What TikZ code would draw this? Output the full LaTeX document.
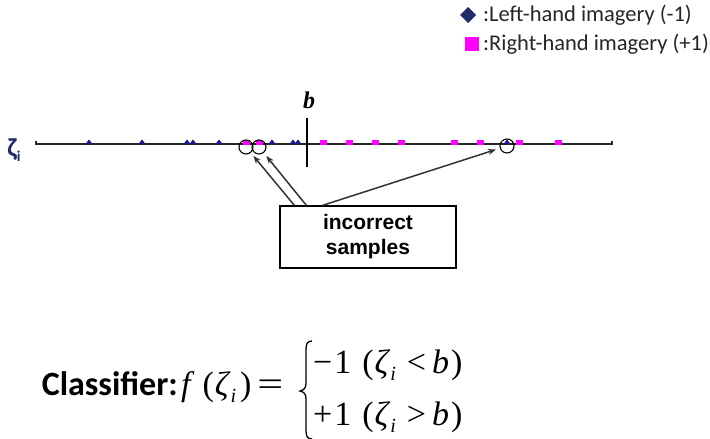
\documentclass[tikz,border=0pt]{standalone}
\usepackage{fontspec}
\setmainfont{Liberation Serif}
\newfontfamily\carfont{Carlito}
\newfontfamily\arlfont{Liberation Sans}
\usetikzlibrary{arrows.meta,calc}
\definecolor{navy}{HTML}{1F2A6B}
\definecolor{mblue}{HTML}{1A1A8C}
\definecolor{mag}{HTML}{FF00FF}
\definecolor{txt}{HTML}{262626}
\definecolor{arr}{HTML}{333333}
\tikzset{
  legtext/.style={anchor=west, inner sep=0pt, font=\carfont\fontsize{22.5}{24}\selectfont, text=txt},
  ring/.style={circle, draw=black, line width=1.1pt, minimum size=14pt, inner sep=0pt},
  pointer/.style={draw=arr, line width=1.5pt, -{Stealth[length=8pt,width=6pt]}, shorten >=4pt},
  labelbox/.style={draw=black, line width=1.2pt, minimum width=176pt, minimum height=62pt, inner sep=0pt, align=center, font=\arlfont\bfseries\fontsize{21}{25}\selectfont},
  mathtext/.style={inner sep=0pt, font=\fontsize{34}{36}\selectfont}
}
\newcommand{\zsub}{\textit{ζ}\raisebox{-0.22em}{\fontsize{20}{20}\selectfont\textit{i}}}
\begin{document}
\begin{tikzpicture}[x=1pt,y=-1pt]
\useasboundingbox (0,0) rectangle (710,439);
% legend
\fill[navy] (468,7) -- (476,15) -- (468,23) -- (460,15) -- cycle;
\node[legtext] (l1) at (483,15) {:Left-hand imagery (-1)};
\fill[mag] (465,37) rectangle (479,51);
\node[legtext] (l2) at (483,44) {:Right-hand imagery (+1)};
% axis
\draw[line width=1.4pt, draw=black!85] (36,140.5) -- (36,144) -- (612,144) -- (612,140.5);
\node[inner sep=0pt, font=\carfont\bfseries\fontsize{26}{28}\selectfont, text=navy] (zeta) at (14,150) {ζ\raisebox{-0.2em}{\fontsize{15}{15}\selectfont i}};
% b threshold
\draw[line width=1.8pt] (307,118) -- (307,167);
\node[inner sep=0pt, font=\bfseries\itshape\fontsize{24}{26}\selectfont] (b) at (309,100) {b};
% blue markers
\foreach \x in {89,142,187,193,219,272,293,298,507}
  \fill[mblue] (\x-3.5,144) -- (\x,139.5) -- (\x+3.5,144) -- cycle;
% magenta markers
\foreach \x in {246,259,323,349,375,401,454,480,519,558}
  \fill[mag] (\x-3.5,140) rectangle (\x+3.5,145);
% rings
\node[ring] (c1) at (246,147) {};
\node[ring] (c2) at (259,147) {};
\node[ring] (c3) at (507,146) {};
% box
\node[labelbox] (box) at (368,237) {incorrect\\samples};
\coordinate (s1) at ($(box.north west)+(15,0)$);
\coordinate (s2) at ($(box.north west)+(27,0)$);
\coordinate (s3) at ($(box.north west)+(43,0)$);
\draw[pointer] (s1) -- (c1);
\draw[pointer] (s2) -- (c2);
\draw[pointer] (s3) -- (c3);
% classifier
\node[inner sep=0pt, anchor=base east, font=\carfont\bfseries\fontsize{34}{36}\selectfont, text=black] (cls) at (178,395) {Classifier:};
\node[mathtext, anchor=base west] (fz) at (181,395) {\textit{f}\kern8pt(\kern1pt\zsub\kern4pt)\kern6pt\scalebox{1.35}[1]{=}};
\draw[line width=1.3pt] (312,341) .. controls (307,341) and (306,344) .. (306,350) -- (306,383)
  .. controls (306,388) and (304,390) .. (300,391) .. controls (304,392) and (306,394) .. (306,399)
  -- (306,430) .. controls (306,436) and (307,439) .. (312,439);
\node[mathtext, anchor=base west] (r1) at (313,373) {−\kern2pt1\kern11pt(\kern1pt\zsub\kern11pt<\kern6pt\textit{b}\kern2pt)};
\node[mathtext, anchor=base west] (r2) at (313,425) {+\kern2pt1\kern11pt(\kern1pt\zsub\kern11pt>\kern6pt\textit{b}\kern2pt)};
\end{tikzpicture}
\end{document}
